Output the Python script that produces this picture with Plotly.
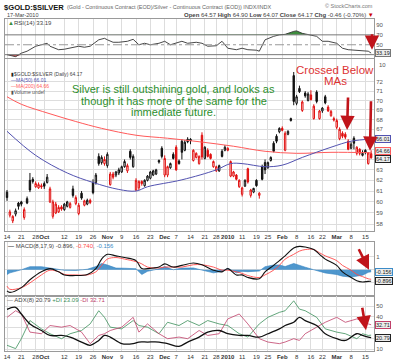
import numpy as np
import pandas as pd
import plotly.graph_objects as go
from plotly.subplots import make_subplots

# ---------------- data ----------------
holidays = ["2009-11-26", "2009-12-25", "2010-01-01", "2010-01-18", "2010-02-15"]
trade_dates = [d for d in pd.bdate_range("2009-09-14", "2010-03-17")
               if d.strftime("%Y-%m-%d") not in holidays]

opens = [60.9, 58.8, 58.3, 58.9, 59.9, 60.0, 58.6, 60.3, 62.0, 62.1,
         61.4, 61.3, 61.5, 61.7, 61.8, 60.0, 58.7, 59.0, 59.1, 59.55,
         59.3, 59.6, 59.5, 61.2, 59.85, 58.95, 60.8, 59.7, 59.8, 60.15,
         61.8, 61.8, 64.3, 63.7, 63.6, 63.4, 61.6, 62.6, 62.5, 62.7,
         62.8, 63.3, 62.9, 64.8, 63.3, 61.1, 61.3, 61.9, 61.5, 62.0,
         62.2, 62.5, 62.6, 63.9, 65.1, 62.5, 62.5, 63.2, 64.5, 65.2,
         63.85, 65.8, 64.9, 66.0, 66.0, 63.9, 64.2, 63.6, 66.4, 64.1,
         64.9, 64.5, 63.3, 62.9, 62.9, 64.8, 64.9, 64.9, 62.4, 62.4,
         62.5, 61.4, 60.7, 61.45, 63.1, 60.6, 60.9, 62.0, 60.6, 63.3,
         63.7, 63.2, 63.9, 65.6, 66.3, 66.75, 67.1, 64.9, 66.5, 68.1,
         72.7, 69.7, 71.3, 68.95, 70.8, 70.0, 70.6, 68.1, 70.9, 68.1,
         68.9, 70.4, 69.3, 68.4, 68.1,
         67.2, 66.05, 66.6, 66.5, 65.8, 65.1, 66.1, 64.6, 65.0, 64.4, 64.9, 63.6, 64.57]
highs = [61.1, 59.3, 58.8, 59.4, 60.0, 60.1, 59.5, 60.5, 62.7, 62.3,
         61.9, 61.8, 61.7, 61.9, 62.6, 61.4, 60.2, 60.0, 59.7, 59.7,
         59.9, 60.1, 60.0, 61.5, 60.6, 59.9, 61.0, 60.2, 60.3, 60.3,
         62.1, 62.7, 64.6, 64.4, 64.3, 64.7, 62.8, 62.8, 62.9, 63.2,
         63.4, 64.0, 63.6, 65.0, 64.5, 62.2, 62.0, 62.0, 62.1, 62.5,
         62.9, 63.0, 63.1, 64.0, 65.3, 64.4, 63.4, 63.7, 64.7, 65.4,
         64.0, 66.0, 65.9, 66.2, 66.1, 65.0, 64.7, 64.4, 66.7, 65.3,
         65.1, 64.6, 63.9, 63.4, 63.5, 65.0, 65.4, 65.2, 63.9, 62.9,
         62.6, 62.1, 61.4, 62.1, 63.2, 61.2, 61.3, 62.1, 60.9, 63.5,
         64.0, 63.8, 64.3, 65.8, 66.5, 67.2, 67.3, 66.8, 66.9, 68.2,
         73.1, 70.6, 71.6, 70.0, 71.0, 70.9, 71.1, 69.6, 71.1, 69.0,
         69.3, 70.6, 69.5, 69.0, 68.3,
         68.1, 67.2, 66.8, 66.7, 66.0, 65.7, 66.3, 65.3, 65.1, 64.9, 65.0, 64.7, 64.90]
lows = [60.1, 58.6, 58.1, 58.7, 59.3, 59.6, 58.4, 59.8, 60.9, 61.7,
        61.3, 61.2, 61.2, 61.2, 61.7, 59.9, 58.5, 58.9, 59.0, 59.2,
        59.2, 59.5, 59.4, 60.4, 59.7, 58.8, 60.2, 59.6, 59.7, 59.8,
        60.7, 61.6, 63.4, 63.5, 63.4, 63.2, 61.5, 62.1, 62.3, 62.5,
        62.7, 63.2, 62.7, 64.0, 63.2, 61.0, 61.1, 61.5, 61.4, 61.9,
        62.1, 62.4, 62.5, 63.6, 64.1, 62.3, 62.3, 63.1, 64.0, 62.9,
        63.5, 64.0, 64.8, 65.6, 65.5, 63.8, 64.1, 63.5, 64.0, 64.0,
        64.2, 64.0, 63.2, 62.8, 62.8, 64.2, 64.8, 64.8, 62.3, 62.3,
        62.0, 61.3, 60.5, 61.4, 61.7, 60.4, 60.8, 61.4, 60.3, 62.0,
        62.6, 63.1, 63.8, 64.7, 65.6, 66.6, 66.8, 64.8, 66.4, 67.8,
        69.5, 69.5, 70.8, 68.8, 70.3, 69.9, 70.0, 68.0, 69.7, 68.0,
        68.7, 69.6, 68.8, 68.3, 67.8,
        67.0, 65.9, 66.1, 66.0, 64.9, 65.0, 65.0, 64.4, 64.4, 64.3, 64.5, 63.5, 64.07]
closes = [60.4, 59.1, 58.7, 59.2, 59.6, 59.8, 59.3, 59.9, 61.1, 61.9,
          61.7, 61.6, 61.4, 61.45, 62.3, 61.2, 60.0, 59.8, 59.5, 59.35,
          59.8, 60.0, 59.85, 60.6, 60.4, 59.7, 60.35, 60.1, 60.15, 59.95,
          60.85, 62.5, 63.6, 64.2, 64.0, 64.5, 62.6, 62.3, 62.8, 63.0,
          63.3, 63.8, 63.4, 64.2, 64.3, 62.0, 61.9, 61.7, 62.0, 62.4,
          62.8, 62.9, 63.0, 63.75, 64.3, 64.1, 63.3, 63.6, 64.1, 63.0,
          63.6, 64.7, 65.7, 65.75, 65.85, 64.9, 64.6, 64.3, 64.25, 65.2,
          64.3, 64.1, 63.8, 63.3, 63.4, 64.3, 65.2, 65.1, 63.8, 62.8,
          62.1, 62.0, 61.3, 62.0, 61.85, 61.1, 61.25, 61.5, 60.8, 62.1,
          63.0, 63.7, 64.2, 64.8, 65.8, 67.1, 66.9, 66.6, 66.8, 67.9,
          69.9, 70.4, 70.95, 69.85, 70.5, 70.7, 70.1, 69.4, 69.9, 68.9,
          69.2, 69.75, 68.9, 68.85, 67.95,
          67.9, 67.0, 66.3, 66.2, 65.0, 65.5, 65.6, 65.2, 64.6, 64.6, 64.7, 64.63, 64.17]

ma50_idx = [0, 10, 21, 30, 39, 45, 49, 61, 73, 78, 82, 90, 96, 103, 113, 120, 127]
ma50 = [66.8, 64.4, 62.7, 61.8, 61.15, 61.0, 61.4, 62.05, 63.0, 63.6, 63.6, 63.3,
        63.45, 64.2, 65.2, 65.8, 66.01]
ma200_idx = [0, 5, 15, 24, 33, 45, 56, 67, 79, 90, 101, 113, 127]
ma200 = [70.4, 69.6, 68.6, 67.8, 67.1, 66.4, 66.1, 65.75, 65.3, 64.8, 64.6, 64.7, 64.66]

rsi_idx = [0, 3, 5, 7, 10, 12, 14, 15, 18, 20, 22, 25, 27, 29, 32, 34, 35, 37, 39, 42,
           44, 46, 48, 50, 53, 55, 57, 59, 61, 63, 66, 68, 70, 73, 75, 77, 80, 82, 84, 87,
           88, 90, 93, 95, 97, 100, 101, 103, 105, 108, 110, 112, 115, 117, 119, 122, 124,
           126, 127]
rsi = [30, 26, 33, 37, 47, 50, 53, 47, 40, 41, 43, 47, 45, 47, 60, 63, 60, 55, 55, 57,
       61, 50, 53, 50, 53, 57, 50, 53, 57, 53, 55, 53, 47, 48, 57, 43, 40, 43, 40, 39,
       37, 60, 67, 70, 71, 77, 78, 73, 70, 67, 57, 57, 53, 43, 40, 39, 38, 37, 33.19]

macd_idx = [0, 1, 5, 8, 12, 15, 18, 20, 24, 28, 31, 33, 35, 38, 41, 45, 47, 49, 53, 55,
            58, 61, 65, 68, 72, 75, 77, 80, 82, 84, 88, 90, 93, 95, 97, 100, 102, 104, 107,
            109, 111, 115, 117, 120, 122, 124, 126, 127]
macd = [-1.64, -1.76, -1.39, -0.78, -0.16, 0.09, -0.16, -0.40, -0.45, -0.36,
        0.09, 0.83, 1.2, 1.08, 0.95, 0.71, 0.09, 0.09, 0.21, 0.46,
        0.21, 0.34, 0.53, 0.39, -0.03, -0.16, 0.09, -0.40, -0.40, -0.60,
        -0.70, -0.16, 0.34, 0.71, 1.08, 1.69, 1.82, 1.77, 1.57, 1.2,
        0.83, 0.34, -0.16, -0.60, -0.85, -0.95, -0.90, -0.896]
signal = [-1.27, -1.52, -1.39, -1.02, -0.40, -0.03, -0.16, -0.36, -0.40, -0.40,
          -0.16, 0.34, 0.83, 0.95, 0.83, 0.63, 0.46, 0.21, 0.14, 0.21,
          0.21, 0.21, 0.39, 0.39, 0.21, -0.03, -0.03, -0.16, -0.28, -0.45,
          -0.60, -0.40, -0.03, 0.34, 0.83, 1.2, 1.45, 1.57, 1.57, 1.32,
          1.08, 0.71, 0.34, -0.03, -0.36, -0.53, -0.70, -0.740]

adx_idx = [0, 3, 5, 8, 12, 15, 19, 22, 26, 29, 32, 34, 36, 40, 44, 46, 49, 53, 56, 60,
           63, 67, 70, 74, 77, 81, 84, 88, 91, 95, 97, 100, 102, 104, 108, 111, 115, 118,
           122, 124, 126, 127]
adx = [47, 48.8, 42.7, 33.5, 27.4, 22.8, 22.8, 21.3, 16.7, 13.7, 18.2, 22.8, 21.3, 15.2,
       15.2, 16.7, 16.7, 16.7, 15.2, 12.7, 16.7, 21.3, 25.9, 27.4, 24.4, 22.8, 22.8, 21.3,
       24.4, 28.9, 32, 35, 39.6, 36.6, 32, 24.4, 19.8, 18.2, 24.4, 22.8, 21.3, 20.79]
plus_di = [13.7, 10.6, 19.8, 36.6, 28.9, 24.4, 19.8, 24.4, 27.4, 33.5, 45.7, 39.6, 30.5,
           28.9, 36.6, 32, 30.5, 24.4, 35, 32, 36.6, 32, 36.6, 33.5, 32, 24.4, 21.3, 33.5,
           39.6, 44.2, 45.7, 54.9, 47.2, 45.7, 39.6, 28.9, 25.9, 24.4, 19.8, 24.4, 22.8, 23.09]
minus_di = [39.6, 45.7, 42.7, 25.9, 24.4, 32, 30.5, 32, 25.9, 15.2, 22.8, 24.4, 27.4, 30.5,
            39.6, 25.9, 33.5, 24.4, 19.8, 21.3, 19.8, 27.4, 22.8, 24.4, 38.1, 42.7, 33.5,
            19.8, 16.7, 15.2, 16.7, 19.8, 18.2, 24.4, 30.5, 35, 39.6, 35, 38.1, 36.6, 33.5, 32.71]

tick_dates = ["2009-09-14", "2009-09-21", "2009-09-28", "2009-10-01", "2009-10-12",
              "2009-10-19", "2009-10-26", "2009-11-02", "2009-11-09", "2009-11-16",
              "2009-11-23", "2009-12-01", "2009-12-07", "2009-12-14", "2009-12-21",
              "2009-12-28", "2010-01-04", "2010-01-11", "2010-01-19", "2010-01-25",
              "2010-02-01", "2010-02-08", "2010-02-16", "2010-02-22", "2010-03-01",
              "2010-03-08", "2010-03-15"]
tick_labels = ["14", "21", "28", "<b>Oct</b>", "12", "19", "26", "<b>Nov</b>", "9", "16",
               "23", "<b>Dec</b>", "7", "14", "21", "28", "<b>2010</b>", "11", "19", "25",
               "<b>Feb</b>", "8", "16", "22", "<b>Mar</b>", "8", "15"]

# ---------------- geometry ----------------
W, H = 400, 364
ML, MR, MT, MB = 4, 26, 18, 10
PW, PH = W - ML - MR, H - MT - MB


def px2x(px):
    return (px - ML) / PW


def py2y(py):
    return 1 - (py - MT) / PH


def ydom(top, bot):
    return [py2y(bot), py2y(top)]


date_str = [d.strftime("%Y-%m-%d") for d in trade_dates]
xi = list(range(len(trade_dates)))
tick_pos = [date_str.index(d) for d in tick_dates]

FONT = "Liberation Sans, Arial, sans-serif"
GRID = "#dddddd"
BORDER = "#9a9a9a"

fig = make_subplots(rows=4, cols=1, shared_xaxes=True, vertical_spacing=0.0)

# ---- RSI ----
fig.add_trace(go.Scatter(x=rsi_idx, y=[70] * len(rsi), mode="lines", line=dict(width=0),
                         hoverinfo="skip"), row=1, col=1)
fig.add_trace(go.Scatter(x=rsi_idx, y=[max(v, 70) for v in rsi], mode="lines",
                         line=dict(width=0), fill="tonexty", fillcolor="#3c8d3c",
                         hoverinfo="skip"), row=1, col=1)
fig.add_trace(go.Scatter(x=rsi_idx, y=[30] * len(rsi), mode="lines", line=dict(width=0),
                         hoverinfo="skip"), row=1, col=1)
fig.add_trace(go.Scatter(x=rsi_idx, y=[min(v, 30) for v in rsi], mode="lines",
                         line=dict(width=0), fill="tonexty", fillcolor="#c05a5a",
                         hoverinfo="skip"), row=1, col=1)
fig.add_trace(go.Scatter(x=rsi_idx, y=rsi, mode="lines",
                         line=dict(color="#333333", width=0.9)), row=1, col=1)

# ---- Price ----
fig.add_trace(go.Scatter(x=ma200_idx, y=ma200, mode="lines", line=dict(color="#ff5a5a", width=1),
                         line_shape="spline"), row=2, col=1)
fig.add_trace(go.Scatter(x=ma50_idx, y=ma50, mode="lines", line=dict(color="#5252b0", width=1),
                         line_shape="spline"), row=2, col=1)

col_black = [i for i in xi if i == 0 or closes[i] >= closes[i - 1]]
col_red = [i for i in xi if i > 0 and closes[i] < closes[i - 1]]
for grp, c in ((col_black, "#111111"), (col_red, "#e01010")):
    fig.add_trace(go.Candlestick(
        x=grp, open=[opens[i] for i in grp], high=[highs[i] for i in grp],
        low=[lows[i] for i in grp], close=[closes[i] for i in grp],
        increasing=dict(line=dict(color=c, width=1), fillcolor="white"),
        decreasing=dict(line=dict(color=c, width=1), fillcolor=c),
        whiskerwidth=0), row=2, col=1)

# ---- MACD ----
hist = [m - s for m, s in zip(macd, signal)]
fig.add_trace(go.Scatter(x=macd_idx, y=hist, mode="lines", fill="tozeroy",
                         fillcolor="rgba(60,140,200,0.9)", line=dict(color="#2f7fbf", width=0.6)),
              row=3, col=1)
fig.add_trace(go.Scatter(x=macd_idx, y=signal, mode="lines", line=dict(color="#ff4a4a", width=0.9),
                         line_shape="spline"), row=3, col=1)
fig.add_trace(go.Scatter(x=macd_idx, y=macd, mode="lines", line=dict(color="#111111", width=1.1),
                         line_shape="spline"), row=3, col=1)

# ---- ADX ----
fig.add_trace(go.Scatter(x=adx_idx, y=plus_di, mode="lines", line=dict(color="#3b8f5a", width=0.8)),
              row=4, col=1)
fig.add_trace(go.Scatter(x=adx_idx, y=minus_di, mode="lines", line=dict(color="#c0406a", width=0.8)),
              row=4, col=1)
fig.add_trace(go.Scatter(x=adx_idx, y=adx, mode="lines", line=dict(color="#111111", width=1.3),
                         line_shape="spline"), row=4, col=1)

# ---------------- axes ----------------
for r in range(1, 5):
    fig.update_xaxes(row=r, col=1, range=[-0.7, 128.0], tickvals=tick_pos, ticktext=tick_labels,
                     showgrid=True, gridcolor=GRID, gridwidth=1, showline=True, mirror=True,
                     linecolor=BORDER, linewidth=1, ticks="", zeroline=False,
                     rangeslider=dict(visible=False), showticklabels=(r in (2, 4)),
                     tickfont=dict(size=6, color="#333", family=FONT), tickangle=0)

yax_common = dict(side="right", showline=True, mirror=True, linecolor=BORDER, linewidth=1,
                  ticks="", zeroline=False, tickfont=dict(size=6, color="#555", family=FONT))
fig.update_yaxes(row=1, col=1, range=[24, 102], tickvals=[50, 70, 90], showgrid=False,
                 domain=ydom(19, 58), **yax_common)
price_ticks = list(range(58, 73))
fig.update_yaxes(row=2, col=1, type="log", range=[np.log10(57.4), np.log10(74.6)],
                 tickvals=price_ticks,
                 ticktext=["" if v in (64, 65, 66) else str(v) for v in price_ticks],
                 showgrid=True, gridcolor=GRID, domain=ydom(59, 233), **yax_common)
fig.update_yaxes(row=3, col=1, range=[-2.0, 2.16], tickvals=[-1, 0, 1], ticktext=["", "", "1"],
                 showgrid=True, gridcolor=GRID, domain=ydom(244, 298), **yax_common)
fig.update_yaxes(row=4, col=1, range=[8.4, 58.9], tickvals=[10, 20, 30, 40, 50],
                 ticktext=["10", "", "", "40", "50"], showgrid=True, gridcolor=GRID,
                 domain=ydom(299, 354), **yax_common)

shapes = [
    dict(type="line", xref="paper", x0=0, x1=1, yref="y", y0=70, y1=70,
         line=dict(color="#777", width=1)),
    dict(type="line", xref="paper", x0=0, x1=1, yref="y", y0=30, y1=30,
         line=dict(color="#777", width=1)),
    dict(type="line", xref="paper", x0=0, x1=1, yref="y", y0=50, y1=50,
         line=dict(color="#999", width=1, dash="dashdot")),
]

# ---------------- annotations ----------------
ann = []


def txt(px, py, text, size, color="#333", anchor="left", family=FONT):
    ann.append(dict(x=px2x(px), y=py2y(py), xref="paper", yref="paper", text=text,
                    showarrow=False, xanchor=anchor, yanchor="middle",
                    font=dict(size=size, color=color, family=family)))


def vbox(yref, yval, text, border, shift=0, bg="#ececec"):
    ann.append(dict(x=1, xref="paper", xanchor="left", y=yval, yref=yref, yanchor="middle",
                    text=text, showarrow=False, bgcolor=bg, bordercolor=border, borderwidth=1,
                    borderpad=0, xshift=1, yshift=shift,
                    font=dict(size=5.5, color="#222", family=FONT)))


def arrow(x0, y0, x1, y1):
    ann.append(dict(x=px2x(x1), y=py2y(y1), xref="paper", yref="paper", text="",
                    showarrow=True, ax=x0 - x1, ay=y0 - y1, arrowhead=2, arrowsize=1.1,
                    arrowwidth=2.6, arrowcolor="#c0141a"))


txt(1, 7, "<b>$GOLD:$SILVER</b>", 7.6, "#111")
txt(64, 7, "(Gold - Continuous Contract (EOD)/Silver - Continuous Contract (EOD)) INDX/INDX",
    5.5, "#666")
txt(375, 6, "© StockCharts.com", 5.5, "#777", anchor="right")
txt(4, 14.5, "17-Mar-2010", 5.5, "#444")
txt(376, 14.5, "<b>Open</b> 64.57 <b>High</b> 64.90 <b>Low</b> 64.07 <b>Close</b> 64.17 "
               "<b>Chg</b> -0.46 (-0.70%) <span style='color:#c00'>▼</span>", 6, "#444",
    anchor="right")

txt(5, 23, "<span style='color:#3c8d3c'>▲</span>RSI(14) 33.19", 6, "#444")
txt(8, 75, "<span style='color:#222'>▮</span>$GOLD:$SILVER (Daily) 64.17", 5, "#444")
txt(8, 81, "<span style='color:#5252b0'>—</span>MA(50) 66.01", 5, "#5252b0")
txt(8, 87, "<span style='color:#ff5a5a'>—</span>MA(200) 64.66", 5, "#ff5a5a")
txt(8, 93, "<span style='color:#555'>▮</span>Volume undef", 5, "#555")
txt(5, 248, "<b>—</b> MACD(8,17,9) -0.896, <span style='color:#ff4a4a'>-0.740</span>, "
            "<span style='color:#3c8cc8'>-0.156</span>", 6, "#444")
txt(4, 303, "<span style='color:#666'>—</span> ADX(8) 20.79 "
            "<span style='color:#3b8f5a'>+DI 23.09</span> "
            "<span style='color:#c0406a'>-DI 32.71</span>", 6, "#444")
txt(377, 65, "10", 6, "#555")

GREEN = "#2d8f2d"
txt(173, 90, "Silver is still outshining gold, and looks as", 11, GREEN, anchor="center")
txt(173, 101.7, "though it has more of the same for the", 11, GREEN, anchor="center")
txt(173, 113.3, "immediate future.", 11, GREEN, anchor="center")
txt(335, 70, "Crossed Below", 11.5, "#dd3333", anchor="center")
txt(335, 82, "MAs", 11.5, "#dd3333", anchor="center")

vbox("y", 33.19, "33.19", "#777")
vbox("y2", np.log10(66.01), "66.01", "#5252b0")
vbox("y2", np.log10(64.66), "64.66", "#ff5a5a", shift=1.6)
vbox("y2", np.log10(64.17), "64.17", "#222", shift=-1.6)
vbox("y3", -0.896, "-0.896", "#222")
vbox("y3", -0.156, "-0.156", "#3c8cc8")
vbox("y4", 32.71, "32.71", "#c0406a")
vbox("y4", 20.79, "20.79", "#222")

arrow(372, 33, 372, 50)
arrow(348, 97, 347, 131)
arrow(371, 101, 370, 152)
arrow(358, 250, 369, 272)
arrow(362, 309, 366, 333)

fig.update_layout(width=W, height=H, margin=dict(l=ML, r=MR, t=MT, b=MB),
                  paper_bgcolor="white", plot_bgcolor="white", showlegend=False,
                  font=dict(family=FONT, size=6, color="#444"),
                  annotations=ann, shapes=shapes, hovermode=False)

fig.write_html("out.html", config={"displayModeBar": False},
               post_script="document.body.style.margin='0';")
